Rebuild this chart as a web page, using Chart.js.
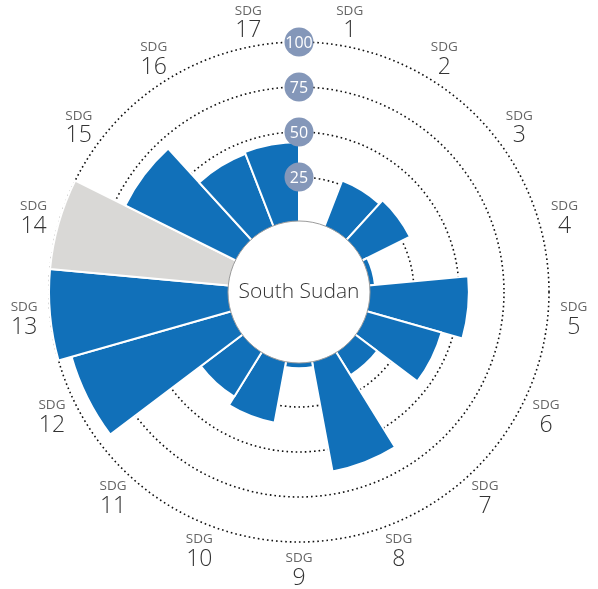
<!DOCTYPE html>
<html>
<head>
<meta charset="utf-8">
<script src="https://cdn.jsdelivr.net/npm/chart.js@4.4.1/dist/chart.umd.min.js"></script>
<style>
  html, body { margin: 0; padding: 0; background: #fff; }
  #wrap { width: 598px; height: 589px; }
</style>
</head>
<body>
<div id="wrap"><canvas id="sdgChart" width="598" height="589"></canvas></div>
<script>
// SDG scores (null = no data, shown in grey)
const categories = ['1', '2', '3', '4', '5', '6', '7', '8', '9', '10', '11', '12', '13', '14', '15', '16', '17'];
const scores = [0, 27.5, 30, 3.5, 55.5, 43.5, 15.5, 62.5, 3.5, 35, 29.5, 92.5, 100, null, 69, 43.5, 44.5];
const ringTicks = [25, 50, 75, 100];
const countryName = 'South Sudan';

const BLUE = '#1170b9';
const GREY = '#d9d8d6';
const SCALE_MAX = 100;
const SCALE_MIN = -38.89; // leaves room for the hole in the middle

const plotted = scores.map(v => v === null ? SCALE_MAX : v);
const colours = scores.map(v => v === null ? GREY : BLUE);

const sdgDecor = {
    id: 'sdgDecor',
    afterDatasetsDraw(chart) {
        const r = chart.scales.r;
        const ctx = chart.ctx;
        const holeR = r.getDistanceFromCenterForValue(0) + 1;
        ctx.save();
        ctx.beginPath();
        ctx.arc(r.xCenter, r.yCenter, holeR, 0, Math.PI * 2);
        ctx.fillStyle = '#fff';
        ctx.fill();
        ctx.lineWidth = 1;
        ctx.strokeStyle = '#9b9b9b';
        ctx.stroke();
        ctx.fillStyle = '#333';
        ctx.font = '300 21px "Open Sans"';
        ctx.textAlign = 'center';
        ctx.textBaseline = 'middle';
        ctx.fillText(countryName, r.xCenter, r.yCenter);
        ctx.restore();
    },
    afterDraw(chart) {
        const r = chart.scales.r;
        const ctx = chart.ctx;
        ctx.save();
        ctx.textAlign = 'center';
        ctx.textBaseline = 'middle';

        // ring value badges
        ringTicks.forEach(v => {
            const y = r.yCenter - r.getDistanceFromCenterForValue(v);
            ctx.beginPath();
            ctx.arc(r.xCenter, y, 14.5, 0, Math.PI * 2);
            ctx.fillStyle = '#8497b9';
            ctx.fill();
            ctx.fillStyle = '#fff';
            ctx.font = '16px "Open Sans"';
            ctx.fillText(String(v), r.xCenter, y + 1);
        });

        // SDG labels round the outside
        categories.forEach((c, i) => {
            const p = r.getPointPosition(i + 0.5, r.drawingArea + 26);
            ctx.fillStyle = '#666';
            ctx.font = '13.5px "Open Sans"';
            ctx.fillText('SDG', p.x, p.y - 10);
            ctx.fillStyle = '#333';
            ctx.font = '300 23px "Open Sans"';
            ctx.fillText(c, p.x, p.y + 10);
        });
        ctx.restore();
    }
};

const ctx = document.getElementById('sdgChart').getContext('2d');
const chart = new Chart(ctx, {
    type: 'polarArea',
    data: {
        labels: categories.map(c => 'SDG ' + c),
        datasets: [{
            data: plotted,
            backgroundColor: colours,
            borderColor: '#fff',
            borderWidth: 2
        }]
    },
    options: {
        responsive: false,
        animation: false,
        devicePixelRatio: 1,
        layout: { padding: { left: 49, right: 49, top: 42, bottom: 47 } },
        plugins: {
            legend: { display: false },
            tooltip: { enabled: false }
        },
        scales: {
            r: {
                min: SCALE_MIN,
                max: SCALE_MAX,
                z: 1,
                afterBuildTicks: scale => {
                    scale.ticks = ringTicks.map(v => ({ value: v }));
                },
                ticks: { display: false },
                grid: { circular: true, color: '#111', lineWidth: 1.6 },
                border: { dash: [1.6, 3] },
                angleLines: { display: false },
                pointLabels: { display: false }
            }
        }
    },
    plugins: [sdgDecor]
});
</script>
</body>
</html>
